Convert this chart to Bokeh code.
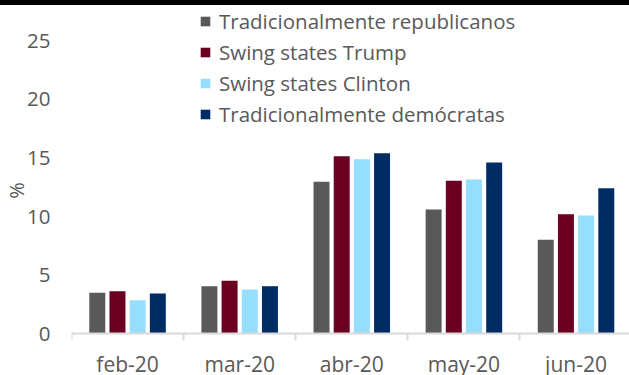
from bokeh.plotting import figure
from bokeh.models import (Range1d, FixedTicker, Legend, LegendItem,
                          ColumnDataSource, Div)
from bokeh.layouts import column
from bokeh.transform import dodge
from bokeh.embed import file_html
from bokeh.resources import INLINE

# Monthly values (%) by group of states
months = ["feb-20", "mar-20", "abr-20", "may-20", "jun-20"]
trad_republicanos = [3.50, 4.06, 12.97, 10.61, 8.02]
swing_trump = [3.63, 4.52, 15.15, 13.05, 10.20]
swing_clinton = [2.87, 3.78, 14.90, 13.17, 10.10]
trad_democratas = [3.44, 4.06, 15.41, 14.62, 12.42]
y_ticks = [0, 5, 10, 15, 20, 25]

series = [
    ("Tradicionalmente republicanos", "rep", trad_republicanos, "#595959"),
    ("Swing states Trump", "st", swing_trump, "#6B0020"),
    ("Swing states Clinton", "sc", swing_clinton, "#96DEFD"),
    ("Tradicionalmente demócratas", "dem", trad_democratas, "#002C66"),
]

centers = [i + 0.5 for i in range(len(months))]
data = {"x": centers}
for _, key, vals, _ in series:
    data[key] = vals
source = ColumnDataSource(data)

FONT = "Open Sans"
TEXT = "#595959"

# The frame fills the whole height; the x axis sits on y = 0 and the
# month labels are drawn in the space below it.
p = figure(width=629, height=370, output_backend="svg", toolbar_location=None,
           x_range=Range1d(0, 4.977), y_range=Range1d(-3.558, 28.01),
           min_border_left=70, min_border_right=0,
           min_border_top=0, min_border_bottom=0)
p.outline_line_color = None
p.xgrid.visible = False
p.ygrid.visible = False

offsets = [-0.27, -0.09, 0.09, 0.27]
items = []
for (label, key, _, color), off in zip(series, offsets):
    r = p.vbar(x=dodge("x", off, range=p.x_range), top=key, bottom=0,
               width=0.1425, source=source, fill_color=color, line_color=None)
    items.append(LegendItem(label=label, renderers=[r]))

# x axis: labels centred on each month, tick marks on category boundaries
xa = p.xaxis[0]
xa.fixed_location = 0
xa.ticker = FixedTicker(ticks=centers, minor_ticks=list(range(len(months) + 1)))
xa.major_label_overrides = {c: m for c, m in zip(centers, months)}
xa.major_tick_out = 0
xa.major_tick_in = 0
xa.minor_tick_out = 7
xa.minor_tick_in = 0
xa.minor_tick_line_color = "#D9D9D9"
xa.minor_tick_line_width = 2
xa.axis_line_color = "#D9D9D9"
xa.axis_line_width = 2
xa.major_label_text_font = FONT
xa.major_label_text_font_size = "21px"
xa.major_label_text_color = TEXT
xa.major_label_standoff = 9

ya = p.yaxis[0]
ya.ticker = FixedTicker(ticks=y_ticks)
ya.axis_line_color = None
ya.major_tick_out = 0
ya.major_tick_in = 0
ya.major_tick_line_color = None
ya.minor_tick_line_color = None
ya.major_label_text_font = FONT
ya.major_label_text_font_size = "20.5px"
ya.major_label_text_color = TEXT
ya.major_label_standoff = 21
ya.axis_label = "%"
ya.axis_label_text_font = FONT
ya.axis_label_text_font_size = "20px"
ya.axis_label_text_font_style = "normal"
ya.axis_label_text_color = TEXT
ya.axis_label_standoff = -6

legend = Legend(items=items, location=(128, 247),
                glyph_width=12, glyph_height=12, label_height=26,
                spacing=3, padding=0, margin=0, label_standoff=8,
                label_text_font=FONT, label_text_font_size="20.5px",
                label_text_color=TEXT, border_line_alpha=0,
                background_fill_alpha=0)
p.add_layout(legend)

top_bar = Div(text="", width=629, height=5, margin=0,
              styles={"background-color": "black"})
layout = column(top_bar, p, spacing=0)

open("out.html", "w").write(file_html(layout, INLINE))
